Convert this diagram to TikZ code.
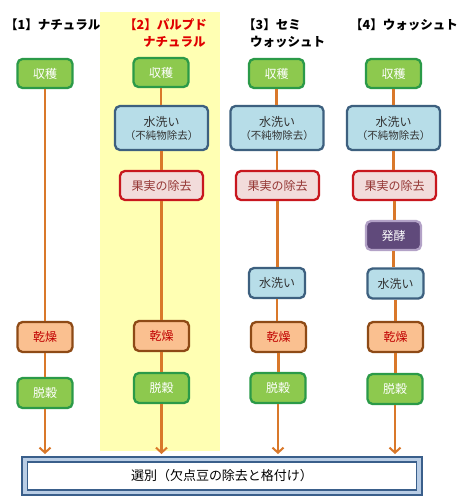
\documentclass[tikz,border=0pt]{standalone}
\usepackage{fontspec}
\setmainfont{Noto Sans CJK JP}
\usetikzlibrary{arrows.meta}
\definecolor{grfill}{HTML}{8DC94E}
\definecolor{grdraw}{HTML}{2B9A48}
\definecolor{blfill}{HTML}{B7DDE8}
\definecolor{bldraw}{HTML}{3D607F}
\definecolor{pkfill}{HTML}{F2DCDB}
\definecolor{pkdraw}{HTML}{C8171E}
\definecolor{pktext}{HTML}{953735}
\definecolor{orfill}{HTML}{FAC090}
\definecolor{ordraw}{HTML}{8E4A16}
\definecolor{ortext}{HTML}{C00000}
\definecolor{pufill}{HTML}{604A7B}
\definecolor{pudraw}{HTML}{B3A2C7}
\definecolor{flow}{HTML}{D9782A}
\definecolor{hilite}{HTML}{FFFFB3}
\definecolor{selfill}{HTML}{B9CDE5}
\definecolor{seldraw}{HTML}{3A5F8B}
\definecolor{titlered}{HTML}{E00000}
\begin{document}
\begin{tikzpicture}[x=1pt,y=-1pt,
  base/.style={rounded corners=5pt, line width=2.3pt, inner sep=0pt, font=\fontsize{12}{14}\selectfont, align=center},
  harvest/.style={base, fill=grfill, draw=grdraw, text=white, minimum width=55pt, minimum height=29pt},
  wash/.style={base, fill=blfill, draw=bldraw, text=black!80, minimum width=93pt, minimum height=44pt},
  washs/.style={base, fill=blfill, draw=bldraw, text=black!80, minimum width=56pt, minimum height=30pt},
  pulp/.style={base, fill=pkfill, draw=pkdraw, text=pktext, minimum width=83pt, minimum height=29pt},
  ferm/.style={base, fill=pufill, draw=pudraw, text=white, minimum width=55pt, minimum height=29pt},
  dry/.style={base, fill=orfill, draw=ordraw, text=ortext, minimum width=55pt, minimum height=30pt},
  hull/.style={harvest, minimum height=30pt},
  title/.style={anchor=west, inner sep=0pt, font=\fontsize{12.5}{14}\selectfont\bfseries},
  link/.style={color=flow, line width=2.5pt},
  arr/.style={link, -{Straight Barb[length=5pt,width=11pt,line width=2pt]}}
]
\useasboundingbox (0,0) rectangle (461,504);
\fill[white] (0,0) rectangle (461,504);
\fill[hilite] (100,12) rectangle (220,451);

% titles
\node[title] (t1) at (5,25) {【1】ナチュラル};
\node[title, text=titlered] (t2a) at (124,25) {【2】パルプド};
\node[title, text=titlered] (t2b) at (143,42) {ナチュラル};
\node[title] (t3a) at (243,25) {【3】セミ};
\node[title] (t3b) at (250,42) {ウォッシュト};
\node[title] (t4) at (350,25) {【4】ウォッシュト};

% column 1
\node[harvest] (h1) at (45,73.5) {収穫};
\node[dry] (d1) at (45,337) {乾燥};
\node[hull] (u1) at (45,393) {脱穀};
\coordinate (e1) at (45,454);

% column 2
\node[harvest] (h2) at (161,72.5) {収穫};
\node[wash] (w2) at (161.5,128) {水洗い\\[-1pt]{\fontsize{10.5}{12}\selectfont （不純物除去）}};
\node[pulp] (p2) at (161.5,185.5) {果実の除去};
\node[dry] (d2) at (161.5,336) {乾燥};
\node[hull] (u2) at (161.5,388) {脱穀};
\coordinate (e2) at (161,454);

% column 3
\node[harvest] (h3) at (276.5,73.5) {収穫};
\node[wash] (w3) at (277,128) {水洗い\\[-1pt]{\fontsize{10.5}{12}\selectfont （不純物除去）}};
\node[pulp] (p3) at (277.5,185.5) {果実の除去};
\node[washs] (s3) at (277,283) {水洗い};
\node[dry] (d3) at (278.5,337) {乾燥};
\node[hull] (u3) at (278,388) {脱穀};
\coordinate (e3) at (277,454);

% column 4
\node[harvest] (h4) at (393.5,73.5) {収穫};
\node[wash] (w4) at (393.5,128) {水洗い\\[-1pt]{\fontsize{10.5}{12}\selectfont （不純物除去）}};
\node[pulp] (p4) at (394.5,185.5) {果実の除去};
\node[ferm] (f4) at (393.5,235.5) {発酵};
\node[washs] (s4) at (395.5,283.5) {水洗い};
\node[dry] (d4) at (395.5,337) {乾燥};
\node[hull] (u4) at (395,389) {脱穀};
\coordinate (e4) at (393,454);

% connectors
\draw[link] (h1.south) -- (h1.south |- d1.north);
\draw[link] (d1.south) -- (d1.south |- u1.north);
\draw[arr] (u1.south) -- (u1.south |- e1);

\draw[link] (h2.south) -- (h2.south |- w2.north);
\draw[link] (w2.south) -- (w2.south |- p2.north);
\draw[link] (p2.south) -- (p2.south |- d2.north);
\draw[link] (d2.south) -- (d2.south |- u2.north);
\draw[arr] (u2.south) -- (u2.south |- e2);

\draw[link] (h3.south) -- (h3.south |- w3.north);
\draw[link] (w3.south) -- (w3.south |- p3.north);
\draw[link] (p3.south) -- (p3.south |- s3.north);
\draw[link] (s3.south) -- (s3.south |- d3.north);
\draw[link] (d3.south) -- (d3.south |- u3.north);
\draw[arr] (u3.south) -- (u3.south |- e3);

\draw[link] (h4.south) -- (h4.south |- w4.north);
\draw[link] (w4.south) -- (w4.south |- p4.north);
\draw[link] (p4.south) -- (p4.south |- f4.north);
\draw[link] (f4.south) -- (f4.south |- s4.north);
\draw[link] (s4.south) -- (s4.south |- d4.north);
\draw[link] (d4.south) -- (d4.south |- u4.north);
\draw[arr] (u4.south) -- (u4.south |- e4);

% selection box
\node[draw=seldraw, fill=selfill, line width=2pt, minimum width=400pt, minimum height=38pt, inner sep=0pt] (sel) at (222,476) {};
\node[draw=seldraw, fill=white, line width=1.2pt, minimum width=389pt, minimum height=28pt, inner sep=0pt, font=\fontsize{13}{15}\selectfont] (selin) at (sel.center) {選別（欠点豆の除去と格付け）};
\end{tikzpicture}
\end{document}
